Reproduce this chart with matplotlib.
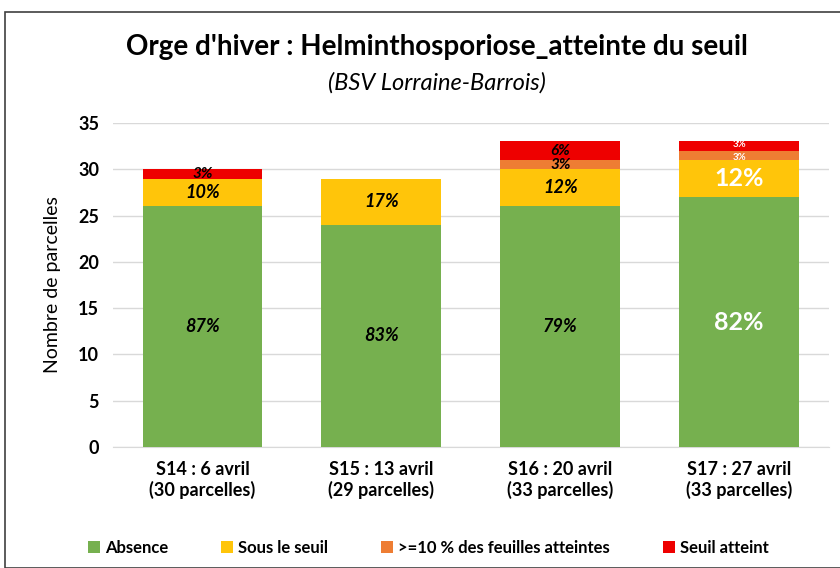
import matplotlib.pyplot as plt
import numpy as np
from matplotlib.patches import Rectangle

plt.rcParams['font.family'] = ['Lato', 'DejaVu Sans']

# Data
semaines = ["S14 : 6 avril\n(30 parcelles)", "S15 : 13 avril\n(29 parcelles)",
            "S16 : 20 avril\n(33 parcelles)", "S17 : 27 avril\n(33 parcelles)"]
absence = [26, 24, 26, 27]
sous_seuil = [3, 5, 4, 4]
feuilles_10 = [0, 0, 1, 1]
seuil_atteint = [1, 0, 2, 1]
series_names = ["Absence", "Sous le seuil", ">=10 % des feuilles atteintes", "Seuil atteint"]
colors = ["#76B04F", "#FFC50A", "#EE7D33", "#EE0000"]

fig = plt.figure(figsize=(8.4, 5.68), dpi=100)
ax = fig.add_axes([0.1345, 0.213, 0.852, 0.5705])

# outer frame
fig.patches.append(Rectangle((5 / 840, 0.0), 1.0, 1 - 12 / 568, transform=fig.transFigure,
                             fill=False, edgecolor="#404040", linewidth=1.2))

x = np.arange(len(semaines))
width = 0.67
series = [absence, sous_seuil, feuilles_10, seuil_atteint]
bottom = np.zeros(len(semaines))
totals = np.sum(series, axis=0)
for k, (vals, name, col) in enumerate(zip(series, series_names, colors)):
    vals = np.array(vals)
    ax.bar(x, vals, width, bottom=bottom, color=col, label=name, zorder=3)
    for i, v in enumerate(vals):
        if v == 0:
            continue
        pct = "%d%%" % round(100 * v / totals[i])
        yc = bottom[i] + v / 2
        small = v <= 2 and k > 0
        if i == 3:
            if small:
                # push the two thin labels apart a little
                yc += 0.2 if k == 3 else -0.2
            ax.text(x[i], yc, pct, ha="center", va="center", color="white",
                    fontsize=7 if small else 18, fontweight="bold", zorder=4)
        else:
            ax.text(x[i], yc, pct, ha="center", va="center", color="black",
                    fontsize=11 if small else 13, fontweight="bold", style="italic", zorder=4)
    bottom += vals

ax.set_xlim(-0.5, 3.5)
ax.set_ylim(0, 35)
ax.set_yticks(range(0, 36, 5))
ax.set_xticks(x)
ax.set_xticklabels(semaines, fontsize=13, fontweight="bold")
for lbl in ax.get_yticklabels():
    lbl.set_fontweight("bold")
    lbl.set_fontsize(13)
ax.tick_params(axis="both", length=0, pad=10)
ax.yaxis.grid(True, color="#D9D9D9", linewidth=1, zorder=0)
for s in ["top", "right", "left"]:
    ax.spines[s].set_visible(False)
ax.spines["bottom"].set_color("#D9D9D9")
ax.set_ylabel("Nombre de parcelles", fontsize=14, labelpad=12)

fig.text(0.52, 0.917, "Orge d'hiver : Helminthosporiose_atteinte du seuil",
         ha="center", va="center", fontsize=20, fontweight="bold")
fig.text(0.52, 0.855, "(BSV Lorraine-Barrois)", ha="center", va="center",
         fontsize=17, style="italic")

fig.legend(loc="lower center", bbox_to_anchor=(0.51, -0.005), ncol=4, frameon=False,
           handlelength=0.7, handleheight=0.7, columnspacing=3.2, handletextpad=0.3,
           prop={"weight": "bold", "size": 12})

fig.savefig("out.png", dpi=100)
